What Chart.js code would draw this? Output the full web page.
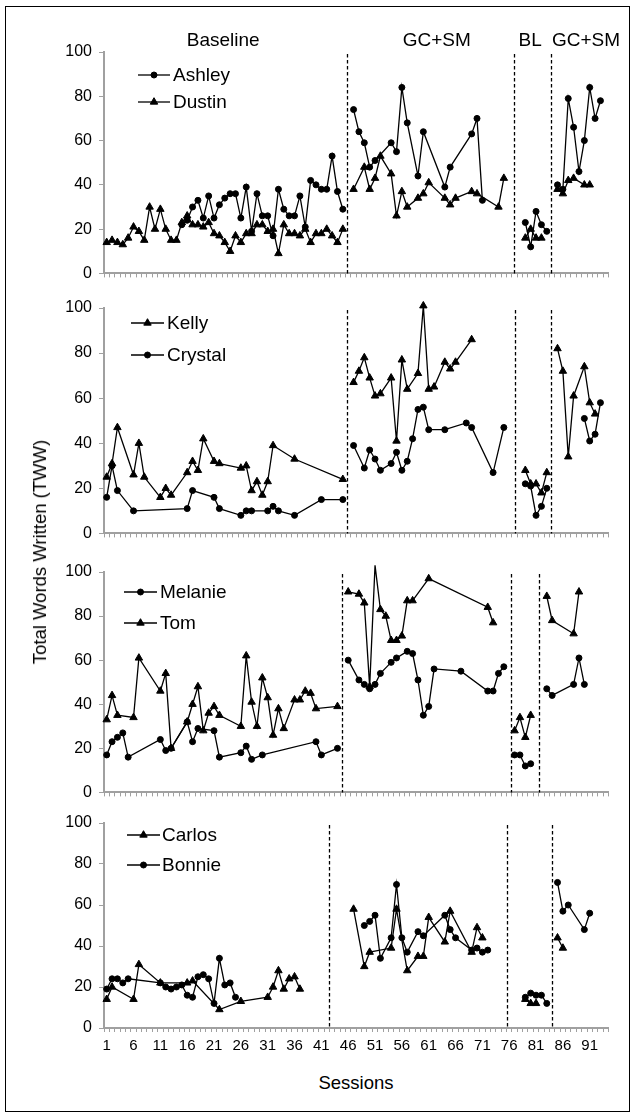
<!DOCTYPE html>
<html>
<head>
<meta charset="utf-8">
<script src="https://cdn.jsdelivr.net/npm/chart.js@4.4.1/dist/chart.umd.min.js"></script>
<style>
  body { margin: 0; background: #fff; }
  #wrap { position: relative; width: 635px; height: 1117px; font-family: 'Liberation Sans', Arial, sans-serif; color: #000; }
  #frame { position: absolute; left: 5px; top: 6px; width: 623px; height: 1104px; border: 1.5px solid #000; }
  canvas { position: absolute; left: 0; }
  #ytitle { position: absolute; left: 40px; top: 552px; transform: translate(-50%, -50%) rotate(-90deg); font-size: 18.5px; white-space: nowrap; }
  #xtitle { position: absolute; left: 356px; top: 1083px; transform: translate(-50%, -50%); font-size: 18.5px; white-space: nowrap; }
</style>
</head>
<body>
<div id="wrap">
  <div id="frame"></div>
  <canvas id="p1" width="635" height="290"></canvas>
  <canvas id="p2" width="635" height="262"></canvas>
  <canvas id="p3" width="635" height="257"></canvas>
  <canvas id="p4" width="635" height="255"></canvas>
  <div id="ytitle">Total Words Written (TWW)</div>
  <div id="xtitle">Sessions</div>
</div>
<script>
// session labels on the bottom axis
const sessionLabels = [1, 6, 11, 16, 21, 26, 31, 36, 41, 46, 51, 56, 61, 66, 71, 76, 81, 86, 91];
const phaseNames = ['Baseline', 'GC+SM', 'BL', 'GC+SM'];

// null marks a phase change (line is broken there)
const ashleySessions = [15,16,17,18,19,20,21,22,23,24,25,26,27,28,29,30,31,32,33,34,35,36,37,38,39,40,41,42,43,44,45, null,
  47,48,49,50,51,54,55,56,57,59,60,64,65,69,70,71, null, 79,80,81,82,83, null, 85,86,87,88,89,90,91,92,93];
const ashleyTWW = [22,24,30,33,25,35,25,31,34,36,36,25,39,19,36,26,26,17,38,29,26,26,35,21,42,40,38,38,53,37,29, null,
  74,64,59,48,51,59,55,84,68,44,64,39,48,63,70,33, null, 23,12,28,22,19, null, 40,38,79,66,46,60,84,70,78];

const dustinSessions = [1,2,3,4,5,6,7,8,9,10,11,12,13,14,15,16,17,18,19,20,21,22,23,24,25,26,27,28,29,30,31,32,33,34,35,36,37,38,39,40,41,42,43,44,45, null,
  47,49,50,51,52,54,55,56,57,59,60,61,64,65,66,69,70,74,75, null, 79,80,81,82, null, 85,86,87,88,90,91];
const dustinTWW = [14,15,14,13,16,21,19,15,30,20,29,20,15,15,23,26,22,22,21,23,18,17,14,10,17,14,18,18,22,22,19,20,9,22,18,18,17,20,14,18,18,20,17,14,20, null,
  38,48,38,43,53,45,26,37,30,34,36,41,34,31,34,37,36,30,43, null, 16,20,16,16, null, 38,36,42,43,40,40];

const kellySessions = [1,2,3,6,7,8,11,12,13,16,17,18,19,21,22,26,27,28,29,30,31,32,36,45, null,
  47,48,49,50,51,52,54,55,56,57,59,60,61,62,64,65,66,69, null, 79,80,81,82,83, null, 85,86,87,88,90,91,92];
const kellyTWW = [25,31,47,26,40,25,16,20,17,27,32,28,42,32,31,29,30,19,23,17,23,39,33,24, null,
  67,72,78,69,61,62,69,41,77,64,71,101,64,65,76,73,76,86, null, 28,22,22,18,27, null, 82,72,34,61,74,58,53];

const crystalSessions = [1,2,3,6,16,17,21,22,26,27,28,31,32,33,36,41,45, null,
  47,49,50,51,52,54,55,56,57,58,59,60,61,64,68,69,73,75, null, 79,80,81,82,83, null, 90,91,92,93];
const crystalTWW = [16,30,19,10,11,19,16,11,8,10,10,10,12,10,8,15,15, null,
  39,29,37,33,28,31,36,28,32,42,55,56,46,46,49,47,27,47, null, 22,21,8,12,20, null, 51,41,44,58];

const melanieSessions = [1,2,3,4,5,11,12,13,16,17,18,21,22,26,27,28,30,40,41,44, null,
  46,48,49,50,51,52,54,55,57,58,59,60,61,62,67,72,73,74,75, null, 77,78,79,80, null, 83,84,88,89,90];
const melanieTWW = [17,23,25,27,16,24,19,20,32,23,29,28,16,18,21,15,17,23,17,20, null,
  60,51,49,47,49,54,59,61,64,63,51,35,39,56,55,46,46,54,57, null, 17,17,12,13, null, 47,44,49,61,49];

const tomSessions = [1,2,3,6,7,11,12,13,16,17,18,19,20,21,22,26,27,28,29,30,31,32,33,34,36,37,38,39,40,44, null,
  46,48,49,50,51,52,53,54,55,56,57,58,61,72,73, null, 77,78,79,80, null, 83,84,88,89];
const tomTWW = [33,44,35,34,61,46,54,20,32,40,48,28,36,39,35,30,62,41,30,52,43,26,38,29,42,42,46,45,38,39, null,
  91,90,86,48,103,83,80,69,69,71,87,87,97,84,77, null, 28,34,25,35, null, 89,78,72,91];

const carlosSessions = [1,2,6,7,11,16,17,22,26,31,32,33,34,35,36,37, null,
  47,49,50,54,55,57,59,60,61,64,65,69,70,71, null, 79,80,81, null, 85,86];
const carlosTWW = [14,20,14,31,22,22,23,9,13,15,20,28,19,24,25,19, null,
  58,30,37,39,58,28,35,35,54,42,57,37,49,44, null, 14,12,12, null, 44,39];

const bonnieSessions = [1,2,3,4,5,11,12,13,14,15,16,17,18,19,20,21,22,23,24,25, null,
  49,50,51,52,54,55,56,57,59,60,64,65,66,69,70,71,72, null, 79,80,81,82,83, null, 85,86,87,90,91];
const bonnieTWW = [19,24,24,22,24,22,20,19,20,21,16,15,25,26,24,12,34,21,22,15, null,
  50,52,55,34,44,70,44,37,47,45,55,48,44,38,39,37,38, null, 15,17,16,16,12, null, 71,57,60,48,56];

// phase change lines (in session units) for each panel
const phaseLines1 = [45.7, 76.8, 83.8];
const phaseLines2 = [45.7, 77.1, 83.8];
const phaseLines3 = [44.9, 76.3, 81.5];
const phaseLines4 = [42.4, 75.5, 84.0];

const FONT = "'Liberation Sans', Arial, sans-serif";
Chart.defaults.font.family = FONT;
Chart.defaults.color = '#000';

const AXIS_GREY = '#a0a0a0';
const MARK = { circle: 3, triangle: 4.3 };

function points(sessions, values) {
  return sessions.map((s, i) => ({ x: s, y: values[i] }));
}

// boundaries between sessions carry the small tick marks
const boundaryTicks = [];
for (let k = 0; k <= 94; k++) boundaryTicks.push(k + 0.5);

function drawMarker(ctx, style, x, y) {
  ctx.beginPath();
  if (style === 'circle') {
    ctx.arc(x, y, MARK.circle, 0, Math.PI * 2);
  } else {
    const r = MARK.triangle;
    ctx.moveTo(x, y - r);
    ctx.lineTo(x + r * Math.sin(2 * Math.PI / 3), y - r * Math.cos(2 * Math.PI / 3));
    ctx.lineTo(x + r * Math.sin(4 * Math.PI / 3), y - r * Math.cos(4 * Math.PI / 3));
    ctx.closePath();
  }
  ctx.fill();
  ctx.stroke();
}

const extras = {
  id: 'extras',
  beforeDatasetsDraw(chart, args, opts) {
    const { ctx, chartArea, scales: { x } } = chart;
    ctx.save();
    ctx.strokeStyle = '#000';
    ctx.lineWidth = 1.3;
    ctx.setLineDash([3.5, 2.5]);
    opts.phases.forEach(v => {
      const px = Math.round(x.getPixelForValue(v)) + 0.5;
      ctx.beginPath();
      ctx.moveTo(px, chartArea.top + 2);
      ctx.lineTo(px, chartArea.bottom);
      ctx.stroke();
    });
    ctx.restore();
  },
  afterDraw(chart, args, opts) {
    const { ctx, chartArea, scales: { x } } = chart;
    ctx.save();
    ctx.fillStyle = '#000';
    ctx.strokeStyle = '#000';
    ctx.font = '19px ' + FONT;
    ctx.textBaseline = 'middle';
    const lg = opts.legend;
    lg.rows.forEach((dy, i) => {
      const ds = chart.data.datasets[i];
      const y = chartArea.top + dy;
      ctx.lineWidth = 1.3;
      ctx.beginPath();
      ctx.moveTo(lg.x0, y);
      ctx.lineTo(lg.x1, y);
      ctx.stroke();
      ctx.lineWidth = 1;
      drawMarker(ctx, ds.pointStyle, (lg.x0 + lg.x1) / 2, y);
      ctx.textAlign = 'left';
      ctx.fillText(ds.label, lg.tx, y + 1);
    });
    if (opts.phaseText) {
      const centers = [22.7, 62.5, 79.9, 90.3];
      ctx.textAlign = 'center';
      phaseNames.forEach((name, i) => {
        ctx.fillText(name, x.getPixelForValue(centers[i]), chartArea.top - 11);
      });
    }
    ctx.restore();
  }
};

const panels = [
  { id: 'p1', top: 0, padTop: 52, plotH: 226, xh: 12, labels: false, phaseText: true, phases: phaseLines1,
    legend: { x0: 138, x1: 170, tx: 173, rows: [23, 50] },
    series: [['Ashley', ashleySessions, ashleyTWW, 'circle'], ['Dustin', dustinSessions, dustinTWW, 'triangle']] },
  { id: 'p2', top: 288, padTop: 20, plotH: 230, xh: 12, labels: false, phaseText: false, phases: phaseLines2,
    legend: { x0: 131, x1: 164, tx: 167, rows: [15, 47] },
    series: [['Kelly', kellySessions, kellyTWW, 'triangle'], ['Crystal', crystalSessions, crystalTWW, 'circle']] },
  { id: 'p3', top: 552, padTop: 20, plotH: 225, xh: 12, labels: false, phaseText: false, phases: phaseLines3,
    legend: { x0: 124, x1: 157, tx: 160, rows: [20, 51] },
    series: [['Melanie', melanieSessions, melanieTWW, 'circle'], ['Tom', tomSessions, tomTWW, 'triangle']] },
  { id: 'p4', top: 803, padTop: 20, plotH: 205, xh: 30, labels: true, phaseText: false, phases: phaseLines4,
    legend: { x0: 127, x1: 160, tx: 162, rows: [12, 42] },
    series: [['Carlos', carlosSessions, carlosTWW, 'triangle'], ['Bonnie', bonnieSessions, bonnieTWW, 'circle']] }
];

panels.forEach(p => {
  const canvas = document.getElementById(p.id);
  canvas.style.top = p.top + 'px';
  const tickValues = boundaryTicks.concat(p.labels ? sessionLabels : []).sort((a, b) => a - b);
  new Chart(canvas.getContext('2d'), {
    type: 'line',
    data: {
      datasets: p.series.map(([name, sessions, values, style]) => ({
        label: name,
        data: points(sessions, values),
        borderColor: '#000',
        backgroundColor: '#000',
        borderWidth: 1.3,
        pointStyle: style,
        pointRadius: MARK[style],
        pointBorderWidth: 1,
        pointBackgroundColor: '#000',
        pointBorderColor: '#000',
        spanGaps: false,
        clip: false,
        tension: 0
      }))
    },
    options: {
      responsive: false,
      animation: false,
      devicePixelRatio: 1,
      layout: { padding: { top: p.padTop, left: 0, right: 26.5, bottom: 0 } },
      scales: {
        x: {
          type: 'linear',
          min: 0.5,
          max: 94.5,
          afterBuildTicks: scale => { scale.ticks = tickValues.map(v => ({ value: v })); },
          afterFit: scale => { scale.height = p.xh; },
          ticks: {
            autoSkip: false,
            minRotation: 0,
            maxRotation: 0,
            padding: 5,
            font: { size: 15 },
            color: '#000',
            callback: v => (Number.isInteger(v) ? String(v) : '')
          },
          grid: {
            drawOnChartArea: false,
            drawTicks: true,
            tickLength: 4,
            tickWidth: 1,
            tickColor: ctx => (ctx.tick && Number.isInteger(ctx.tick.value) ? 'rgba(0,0,0,0)' : AXIS_GREY)
          },
          border: { color: AXIS_GREY, width: 2 }
        },
        y: {
          min: 0,
          max: 100,
          afterFit: scale => { scale.width = 104; },
          ticks: { stepSize: 20, padding: 7, font: { size: 16 }, color: '#000' },
          grid: { drawOnChartArea: false, drawTicks: true, tickLength: 5, tickColor: AXIS_GREY, tickWidth: 1 },
          border: { color: AXIS_GREY, width: 2 }
        }
      },
      plugins: {
        legend: { display: false },
        tooltip: { enabled: false },
        extras: { phases: p.phases, legend: p.legend, phaseText: p.phaseText }
      }
    },
    plugins: [extras]
  });
});
</script>
</body>
</html>
